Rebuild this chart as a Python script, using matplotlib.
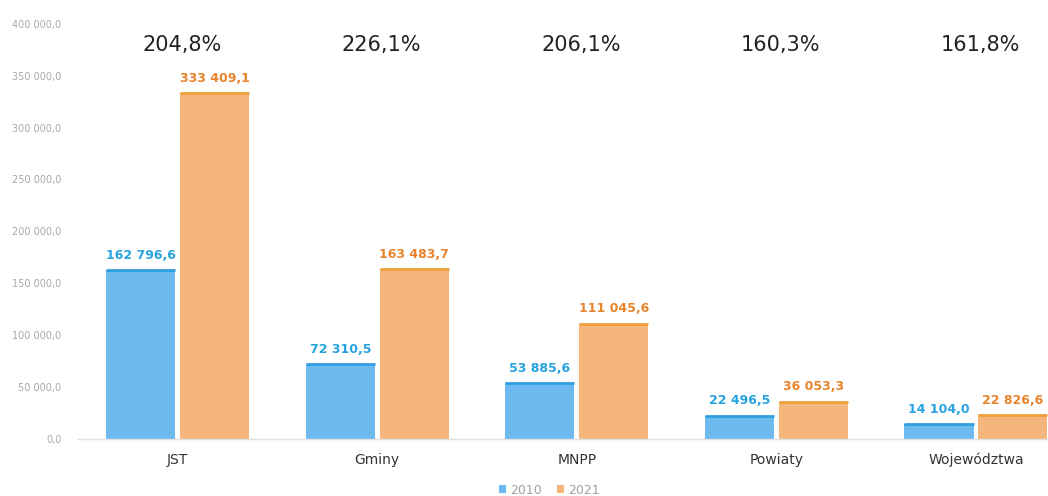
# -*- coding:utf-8 -*-

import numpy as np
import matplotlib.pyplot as plt
from matplotlib import transforms


categories = ['JST', 'Gminy', 'MNPP', 'Powiaty', 'Województwa']
values_2010 = [162796.6, 72310.5, 53885.6, 22496.5, 14104.0]
values_2021 = [333409.1, 163483.7, 111045.6, 36053.3, 22826.6]
growth_labels = ['204,8%', '226,1%', '206,1%', '160,3%', '161,8%']
series_names = ['2010', '2021']

BLUE = '#6cbaf0'
BLUE_EDGE = '#2f9fe0'
BLUE_TEXT = '#27a3e0'
ORANGE = '#f5b67c'
ORANGE_EDGE = '#efa03a'
ORANGE_TEXT = '#e8842c'


def fmt_pl(v):
    # polish style: space as thousands separator, comma as decimal sign
    s = '{:,.1f}'.format(v)
    return s.replace(',', ' ').replace('.', ',')


def main():
    plt.rcParams['font.family'] = ['DejaVu Sans']
    fig = plt.figure(figsize=(10.48, 4.96), dpi=100)
    ax = fig.add_axes([0.0744, 0.115, 0.952, 0.837])

    x = np.arange(len(categories))
    width = 0.346
    offset = 0.185

    bars_a = ax.bar(x - offset, values_2010, width, color=BLUE, label=series_names[0])
    bars_b = ax.bar(x + offset, values_2021, width, color=ORANGE, label=series_names[1])

    # darker line on the top of each bar
    ax.hlines(values_2010, x - offset - width / 2, x - offset + width / 2,
              colors=BLUE_EDGE, linewidth=2)
    ax.hlines(values_2021, x + offset - width / 2, x + offset + width / 2,
              colors=ORANGE_EDGE, linewidth=2)

    ax.bar_label(bars_a, labels=[fmt_pl(v) for v in values_2010], padding=6,
                 color=BLUE_TEXT, fontsize=9, fontweight='bold')
    ax.bar_label(bars_b, labels=[fmt_pl(v) for v in values_2021], padding=6,
                 color=ORANGE_TEXT, fontsize=9, fontweight='bold')

    trans = transforms.blended_transform_factory(ax.transData, ax.transAxes)
    for xi, lab in zip(x, growth_labels):
        ax.text(xi + 0.02, 0.95, lab, transform=trans, ha='center', va='center',
                fontsize=15, color='#222222')

    ax.set_xlim(-0.5, len(categories) - 0.5)
    ax.set_ylim(0, 400000)
    ax.set_yticks(np.arange(0, 400001, 50000))
    ax.set_yticklabels([fmt_pl(v) for v in np.arange(0, 400001, 50000)])
    ax.tick_params(axis='y', length=0, pad=12, labelsize=7, labelcolor='#a8a8a8')
    ax.set_xticks(x)
    ax.set_xticklabels(categories)
    ax.tick_params(axis='x', length=0, pad=10, labelsize=10, labelcolor='#333333')

    for side in ['top', 'right', 'left']:
        ax.spines[side].set_visible(False)
    ax.spines['bottom'].set_color('#e0e0e0')
    ax.spines['bottom'].set_linewidth(1)

    fig.legend(loc='lower center', bbox_to_anchor=(0.524, -0.024), ncol=2,
               frameon=False, fontsize=9, labelcolor='#a0a0a0',
               handlelength=0.6, handleheight=0.6, handletextpad=0.3,
               columnspacing=1.2)

    fig.savefig('out.png', dpi=100)


if __name__ == '__main__':
    main()
